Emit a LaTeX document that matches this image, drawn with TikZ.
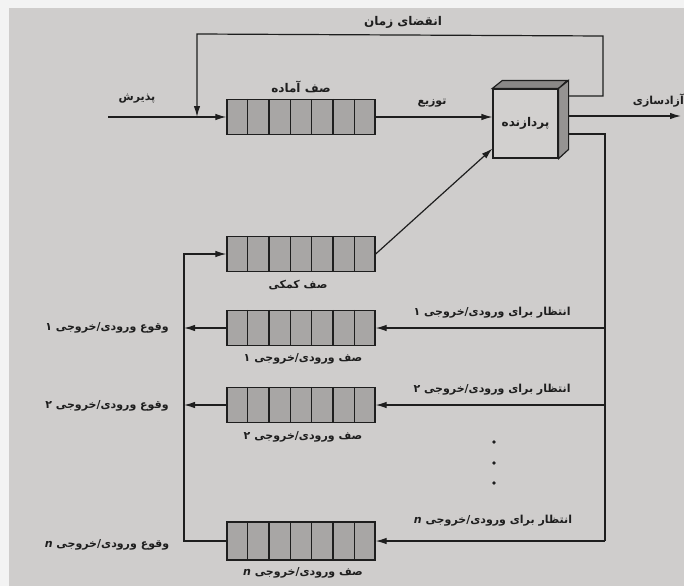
\documentclass[tikz,border=0pt]{standalone}
\usepackage{fontspec}
\usetikzlibrary{arrows.meta,calc}
\TeXXeTstate=1
\newfontfamily\fa[Script=Arabic]{DejaVu Sans}
\definecolor{paper}{HTML}{CFCDCC}
\definecolor{margin}{HTML}{F3F3F3}
\definecolor{ink}{HTML}{1E1E1E}
\definecolor{qfill}{HTML}{A8A6A5}
\definecolor{boxfront}{HTML}{D2D0CF}
\definecolor{boxtop}{HTML}{8A8887}
\definecolor{boxside}{HTML}{959392}
\tikzset{
  lbl/.style={font=\fa\bfseries\fontsize{11}{13}\selectfont, text=ink, inner sep=0pt},
  big/.style={font=\fa\bfseries\fontsize{12}{14}\selectfont},
  qbox/.style={draw=ink, fill=qfill, line width=1.3pt, minimum width=148pt, minimum height=35pt, inner sep=0pt},
  conn/.style={draw=ink, line width=1.2pt},
  arr/.style={conn, -{Latex[length=11pt,width=6.5pt]}},
}
\newcommand\qcells[1]{\foreach \i in {1,...,6}{\draw[conn] ($(#1.north west)!\i/7!(#1.north east)$) -- ($(#1.south west)!\i/7!(#1.south east)$);}}
\begin{document}
\begin{tikzpicture}[x=1pt,y=-1pt]
\useasboundingbox (0,0) rectangle (684,586);
\fill[paper] (0,0) rectangle (684,586);
\fill[margin] (0,0) rectangle (684,8);
\fill[margin] (0,0) rectangle (9,586);

% queues
\node[qbox] (ready) at (301,117) {};
\node[qbox] (aux) at (301,254) {};
\node[qbox] (io1) at (301,328) {};
\node[qbox] (io2) at (301,405) {};
\node[qbox, minimum height=38pt] (ion) at (301,541) {};
\qcells{ready}\qcells{aux}\qcells{io1}\qcells{io2}\qcells{ion}

% processor
\node[draw=ink, line width=1.2pt, fill=boxfront, minimum width=65pt, minimum height=69pt, inner sep=0pt, lbl, big] (cpu) at (525.5,123.5) {\beginR پردازنده\endR};
\draw[conn, fill=boxtop] (cpu.north west) -- ++(10,-8) -- ++(65,0) -- (cpu.north east) -- cycle;
\draw[conn, fill=boxside] (cpu.north east) -- ++(10,-8) -- ++(0,69) -- (cpu.south east) -- cycle;

% coordinates
\coordinate (e1) at (568,96);
\coordinate (e2) at (568,116);
\coordinate (e3) at (568,134);
\coordinate (tr) at (603,36);
\coordinate (tl) at (197,34);
\coordinate (inp) at (108,117);
\coordinate (out) at (681,116);
\coordinate (rr) at (605,134);
\coordinate (lt) at (184,254);

% top feedback (time expiry)
\draw[arr] (e1) -- (e1 -| tr) -- (tr) -- (tl) -- (tl |- ready.west);
% admission
\draw[arr] (inp) -- (ready.west);
% dispatch
\draw[arr] (ready.east) -- (ready.east -| cpu.west);
% release
\draw[arr] (e2) -- (out);
% auxiliary queue to processor
\draw[arr] (aux.east) -- ($(cpu.south west)+(0,-10)$);
% wait for IO
\draw[conn] (e3) -- (rr) -- (rr |- ion.east);
\draw[arr] (rr |- io1.east) -- (io1.east);
\draw[arr] (rr |- io2.east) -- (io2.east);
\draw[arr] (rr |- ion.east) -- (ion.east);
% IO completion
\draw[arr] (io1.west) -- (io1.west -| lt);
\draw[arr] (io2.west) -- (io2.west -| lt);
\draw[arr] (ion.west) -- (ion.west -| lt) -- (lt) -- (aux.west);

% dots
\foreach \yy in {442,463,483} \fill[ink] (494,\yy) circle (1.8);

% labels
\node[lbl, big] (lexp) at (403,22) {\beginR انقضای زمان\endR};
\node[lbl] (ladm) at (137,99) {\beginR پذیرش\endR};
\node[lbl, big] (lready) at (301,87) {\beginR صف آماده\endR};
\node[lbl] (ldisp) at (432,103) {\beginR توزیع\endR};
\node[lbl, anchor=east] (lrel) at (684,101) {\beginR آزادسازی\endR};
\node[lbl] (laux) at (298,285) {\beginR صف کمکی\endR};
\node[lbl] (lq1) at (303,359) {\beginR صف ورودی/خروجی ۱\endR};
\node[lbl] (lq2) at (303,437) {\beginR صف ورودی/خروجی ۲\endR};
\node[lbl] (lqn) at (303,573) {\beginR صف ورودی/خروجی \beginL\textit{n}\endL\endR};
\node[lbl] (lw1) at (492,313) {\beginR انتظار برای ورودی/خروجی ۱\endR};
\node[lbl] (lw2) at (492,390) {\beginR انتظار برای ورودی/خروجی ۲\endR};
\node[lbl] (lwn) at (493,521) {\beginR انتظار برای ورودی/خروجی \beginL\textit{n}\endL\endR};
\node[lbl] (lc1) at (107,328) {\beginR وقوع ورودی/خروجی ۱\endR};
\node[lbl] (lc2) at (107,406) {\beginR وقوع ورودی/خروجی ۲\endR};
\node[lbl] (lcn) at (107,545) {\beginR وقوع ورودی/خروجی \beginL\textit{n}\endL\endR};
\end{tikzpicture}
\end{document}
